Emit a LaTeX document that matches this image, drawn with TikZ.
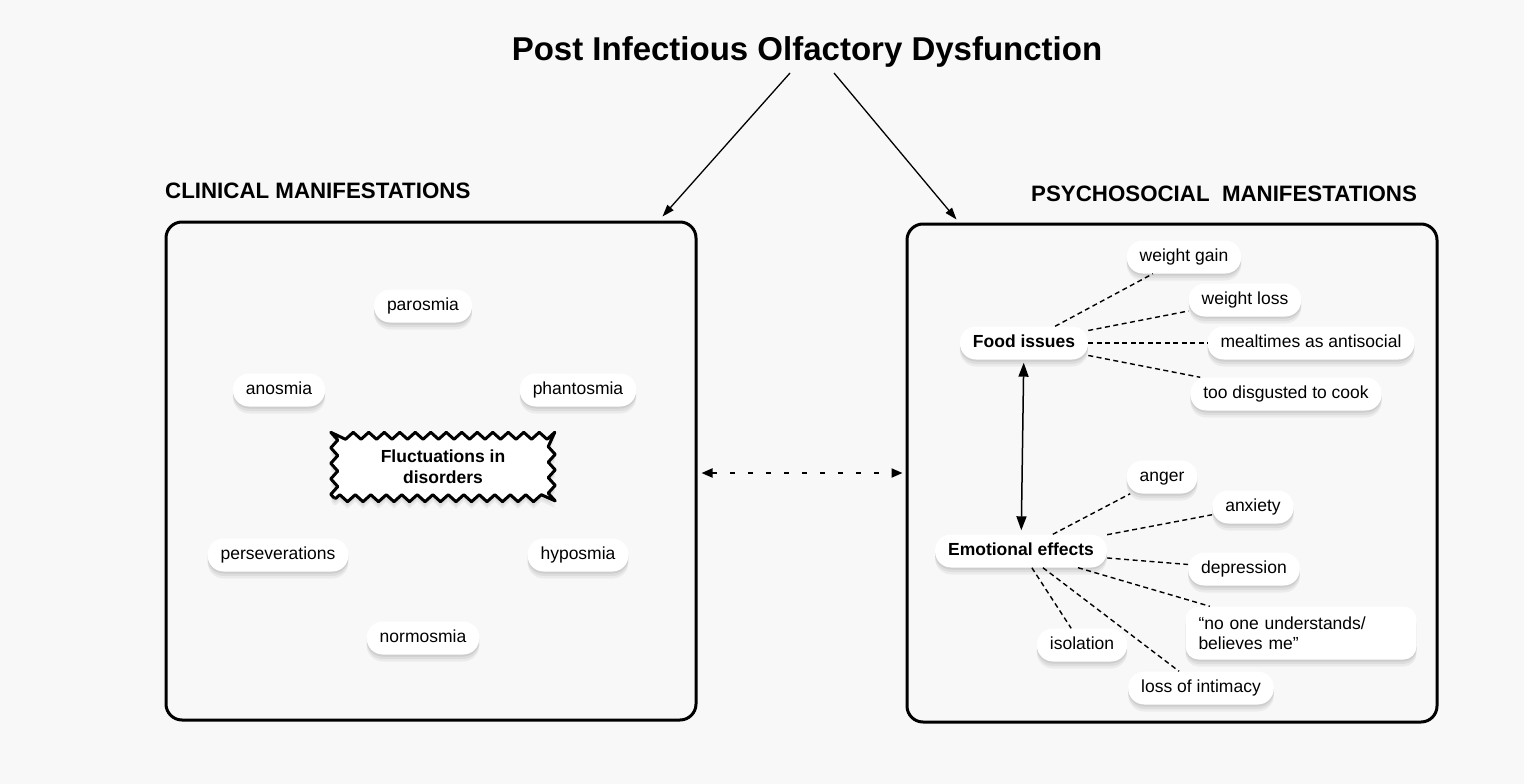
\documentclass[tikz,border=0pt]{standalone}
\usepackage{fontspec}
\setmainfont{Liberation Sans}
\usetikzlibrary{arrows.meta,shadows,decorations.pathmorphing}
\definecolor{bgc}{RGB}{248,248,248}
\begin{document}
\begin{tikzpicture}[x=1pt,y=-1pt,
  softshadow/.style={
    general shadow={fill=black, fill opacity=0.05, shadow xshift=0pt, shadow yshift=-7pt},
    general shadow={fill=black, fill opacity=0.06, shadow xshift=0pt, shadow yshift=-4.5pt},
    general shadow={fill=black, fill opacity=0.07, shadow xshift=0pt, shadow yshift=-2pt}},
  pill/.style={fill=white, rounded corners=16pt, minimum height=33pt, inner xsep=13pt, inner ysep=0pt,
    text height=12.5pt, text depth=3.7pt, font=\fontsize{17.5}{20}\selectfont, softshadow},
  pillb/.style={pill, font=\fontsize{17.5}{20}\selectfont\bfseries},
  bigbox/.style={draw, line width=3pt, rounded corners=16pt, minimum width=530pt, minimum height=498pt},
  heading/.style={font=\fontsize{22.3}{26}\selectfont\bfseries, inner sep=0pt},
  link/.style={dash pattern=on 5pt off 3.5pt, line width=1.4pt},
  tip/.style={-{Triangle[length=12pt,width=8pt]}, line width=1.3pt},
]
\useasboundingbox (0,0) rectangle (1524,784);
\fill[bgc] (0,0) rectangle (1524,784);

% title and headings
\node[font=\fontsize{33}{38}\selectfont\bfseries, inner sep=0pt, anchor=base] (title) at (807,60) {Post Infectious Olfactory Dysfunction};
\node[heading, anchor=base west] (hclin) at (165,198) {CLINICAL MANIFESTATIONS};
\node[heading, anchor=base west] (hpsy) at (1031,201) {PSYCHOSOCIAL~~MANIFESTATIONS};

% big boxes
\node[bigbox] (clin) at (431,471) {};
\node[bigbox] (psy) at (1172,473) {};

% left content
\node[pill] (paro) at (423,306) {parosmia};
\node[pill] (anos) at (279,390) {anosmia};
\node[pill] (phan) at (578,390) {phantosmia};
\node[pill] (pers) at (278,555) {perseverations};
\node[pill] (hypo) at (578,555) {hyposmia};
\node[pill] (norm) at (423,638) {normosmia};

\node[inner sep=0pt, minimum width=217pt, minimum height=62pt] (fluc) at (443,467) {};
\path[draw, line width=3pt, line join=round, fill=white, softshadow, decorate,
      decoration={zigzag, segment length=15.5pt, amplitude=3.5pt}]
      (fluc.south west) rectangle (fluc.north east);
\node[align=center, font=\fontsize{17.5}{21}\selectfont\bfseries, inner sep=0pt] (fluctext) at (fluc.center) {Fluctuations in\\disorders};

% right content
\node[pillb] (food) at (1024,343) {Food issues};
\node[pill] (wgain) at (1184,257) {weight gain};
\node[pill] (wloss) at (1245,300) {weight loss};
\node[pill] (meal) at (1311,343) {mealtimes as antisocial};
\node[pill] (cook) at (1286,394) {too disgusted to cook};

\node[pillb] (emo) at (1021,551) {Emotional effects};
\node[pill] (anger) at (1162,477) {anger};
\node[pill] (anx) at (1253,507) {anxiety};
\node[pill] (dep) at (1244,569) {depression};
\node[pill, rounded corners=13pt, minimum height=53pt, text width=205pt, align=left,
      text height=, text depth=, font=\fontsize{17.5}{20}\selectfont] (noone) at (1301,633) {“no one understands/\\believes me”};
\node[pill] (iso) at (1082,645) {isolation};
\node[pill] (loss) at (1201,688) {loss of intimacy};

% links
\draw[link] (food) -- (wgain);
\draw[link] (food) -- (wloss);
\draw[link] (food) -- (meal);
\draw[link] (food) -- (cook);
\draw[link] (emo) -- (anger);
\draw[link] (emo) -- (anx);
\draw[link] (emo) -- (dep);
\draw[link] (emo) -- (noone);
\draw[link] (emo) -- (iso);
\draw[link] (emo) -- (loss);

\draw[line width=1.5pt, {Triangle[length=14pt,width=10pt]}-{Triangle[length=14pt,width=10pt]},
      shorten <=3pt, shorten >=4pt] (food) -- (emo);

% title arrows
\draw[tip] ([xshift=-17pt,yshift=-13pt]title.base) -- ([xshift=-35pt,yshift=4pt]clin.north east);
\draw[tip] ([xshift=27pt,yshift=-13pt]title.base) -- ([xshift=51pt,yshift=3pt]psy.north west);

% dashed double arrow between boxes
\draw[line width=2pt, dash pattern=on 5pt off 13pt,
      {Triangle[length=11pt,width=9pt]}-{Triangle[length=11pt,width=9pt]},
      shorten <=4pt, shorten >=3pt] ([yshift=-2pt]clin.east) -- ([yshift=-2pt]clin.east -| psy.west);
\end{tikzpicture}
\end{document}
